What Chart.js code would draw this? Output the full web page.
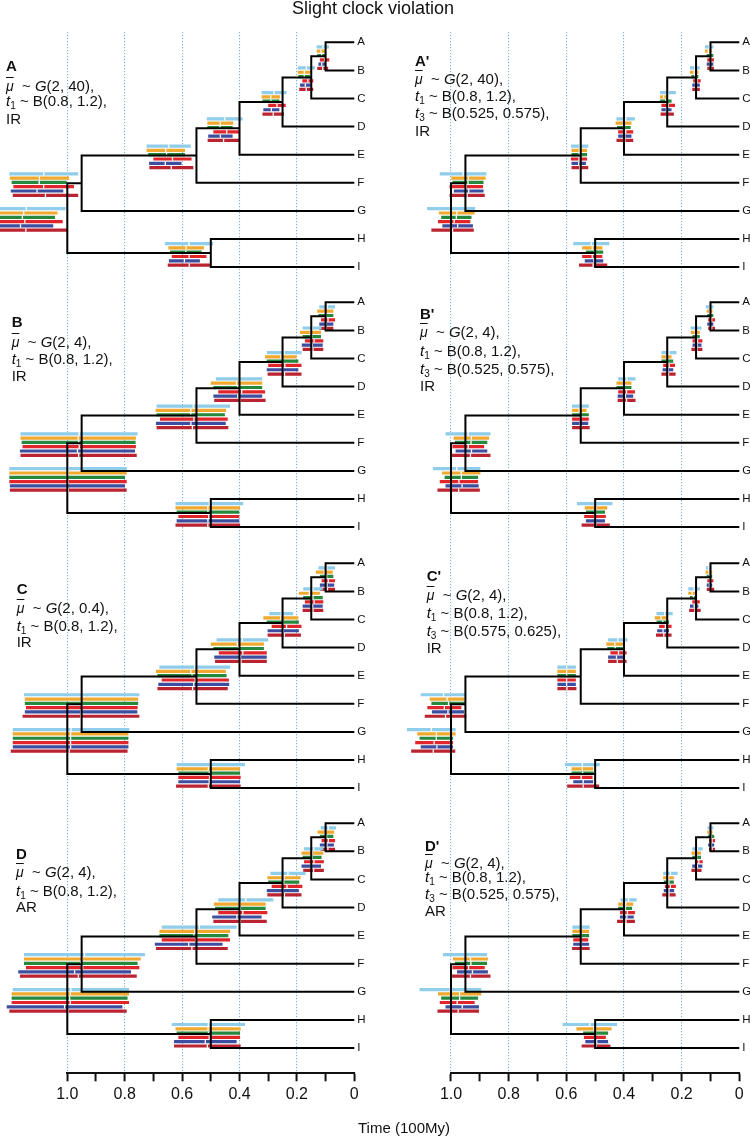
<!DOCTYPE html>
<html><head><meta charset="utf-8">
<script src="https://cdn.jsdelivr.net/npm/chart.js@4.4.1/dist/chart.umd.min.js"></script>
<style>
body{margin:0;background:#fff;width:750px;height:1136px;position:relative;overflow:hidden;font-family:"Liberation Sans",Arial,sans-serif;color:#111;}
canvas{position:absolute;top:0}
.t{position:absolute;white-space:nowrap;font-size:15px;line-height:15px;}
.t sub{font-size:10px;vertical-align:-3px;line-height:0}
.mu{text-decoration:overline;font-size:14px}
</style></head><body>
<canvas id="cl" width="375" height="1136" style="left:0"></canvas>
<canvas id="cr" width="375" height="1136" style="left:375px"></canvas>
<div id="txt"></div>
<script>
// ---------- data ----------
const leafNames = ['A','B','C','D','E','F','G','H','I'];
// internal nodes 9..16 : AB, ABC, ABCD, ABCDE, ABCDEF, ABCDEFG, HI, root
const nodeChildren = [[0,1],[9,2],[10,3],[11,4],[12,5],[13,6],[7,8],[14,15]];
const nodeAges = [0.1,0.15,0.25,0.4,0.55,0.95,0.5,1.0];
const xTickValues = [0,0.1,0.2,0.3,0.4,0.5,0.6,0.7,0.8,0.9,1.0];
const xTickLabels = ['0','','0.2','','0.4','','0.6','','0.8','','1.0'];
const seriesColors = ['#8fcdea','#f0a92e','#25883c','#e2242b','#3d4ea0','#bb2330'];

// 95% intervals [lo, hi] per node (order as nodeChildren), per series (order as seriesColors)
const hpdA = [
 [[0.088,0.131],[0.102,0.131],[0.099,0.129],[0.087,0.12],[0.102,0.125],[0.091,0.129]],
 [[0.137,0.197],[0.151,0.197],[0.154,0.195],[0.143,0.181],[0.152,0.189],[0.143,0.192]],
 [[0.236,0.323],[0.259,0.323],[0.261,0.32],[0.239,0.3],[0.261,0.317],[0.245,0.32]],
 [[0.389,0.514],[0.422,0.512],[0.424,0.512],[0.398,0.491],[0.424,0.509],[0.4,0.511]],
 [[0.57,0.724],[0.59,0.724],[0.59,0.718],[0.567,0.7],[0.602,0.715],[0.561,0.714]],
 [[0.962,1.202],[0.994,1.2],[1.002,1.194],[0.977,1.188],[1.014,1.197],[0.962,1.19]],
 [[0.492,0.66],[0.524,0.648],[0.532,0.642],[0.515,0.636],[0.538,0.646],[0.5,0.65]],
 [[1.006,1.28],[1.034,1.27],[1.043,1.27],[1.016,1.28],[1.049,1.277],[0.999,1.29]]
];
const hpdB = [
 [[0.067,0.122],[0.073,0.129],[0.073,0.125],[0.067,0.116],[0.073,0.122],[0.073,0.122]],
 [[0.114,0.18],[0.116,0.189],[0.116,0.18],[0.108,0.172],[0.11,0.183],[0.108,0.18]],
 [[0.184,0.305],[0.201,0.311],[0.195,0.305],[0.184,0.3],[0.195,0.305],[0.184,0.302]],
 [[0.321,0.482],[0.321,0.5],[0.321,0.491],[0.311,0.474],[0.321,0.491],[0.309,0.488]],
 [[0.433,0.689],[0.447,0.692],[0.451,0.689],[0.441,0.677],[0.448,0.691],[0.439,0.689]],
 [[0.755,1.163],[0.761,1.163],[0.762,1.159],[0.761,1.156],[0.764,1.165],[0.758,1.163]],
 [[0.387,0.623],[0.398,0.623],[0.401,0.619],[0.401,0.613],[0.401,0.619],[0.398,0.623]],
 [[0.793,1.202],[0.793,1.202],[0.799,1.202],[0.793,1.202],[0.799,1.2],[0.793,1.2]]
];
const hpdC = [
 [[0.067,0.125],[0.075,0.134],[0.073,0.12],[0.067,0.114],[0.07,0.12],[0.067,0.12]],
 [[0.11,0.178],[0.12,0.193],[0.11,0.178],[0.108,0.172],[0.11,0.18],[0.108,0.18]],
 [[0.213,0.296],[0.195,0.317],[0.193,0.305],[0.184,0.288],[0.193,0.302],[0.186,0.302]],
 [[0.3,0.48],[0.315,0.5],[0.315,0.491],[0.305,0.472],[0.305,0.488],[0.305,0.485]],
 [[0.433,0.679],[0.448,0.691],[0.445,0.686],[0.437,0.671],[0.436,0.683],[0.441,0.686]],
 [[0.749,1.151],[0.753,1.148],[0.753,1.148],[0.755,1.144],[0.756,1.148],[0.749,1.156]],
 [[0.381,0.619],[0.398,0.619],[0.398,0.613],[0.396,0.613],[0.398,0.613],[0.396,0.621]],
 [[0.784,1.19],[0.787,1.19],[0.787,1.19],[0.787,1.19],[0.787,1.19],[0.79,1.197]]
];
const hpdD = [
 [[0.064,0.117],[0.07,0.128],[0.073,0.12],[0.067,0.114],[0.071,0.12],[0.067,0.117]],
 [[0.108,0.175],[0.108,0.184],[0.114,0.18],[0.106,0.175],[0.116,0.184],[0.106,0.178]],
 [[0.17,0.292],[0.187,0.303],[0.192,0.3],[0.181,0.288],[0.193,0.305],[0.184,0.303]],
 [[0.282,0.474],[0.309,0.489],[0.309,0.485],[0.303,0.474],[0.323,0.495],[0.305,0.491]],
 [[0.41,0.671],[0.433,0.679],[0.439,0.679],[0.433,0.671],[0.459,0.695],[0.441,0.691]],
 [[0.729,1.151],[0.744,1.151],[0.755,1.151],[0.749,1.144],[0.778,1.171],[0.758,1.165]],
 [[0.381,0.636],[0.396,0.623],[0.398,0.619],[0.398,0.613],[0.41,0.628],[0.396,0.628]],
 [[0.785,1.19],[0.785,1.194],[0.79,1.194],[0.785,1.194],[0.808,1.211],[0.793,1.202]]
];
const hpdA2 = [
 [[0.09,0.119],[0.096,0.119],[0.09,0.113],[0.088,0.111],[0.09,0.113],[0.088,0.111]],
 [[0.137,0.171],[0.142,0.171],[0.142,0.166],[0.134,0.16],[0.137,0.163],[0.137,0.163]],
 [[0.22,0.275],[0.25,0.275],[0.235,0.275],[0.223,0.27],[0.235,0.27],[0.227,0.273]],
 [[0.362,0.426],[0.374,0.429],[0.377,0.424],[0.368,0.42],[0.374,0.42],[0.368,0.426]],
 [[0.524,0.584],[0.528,0.582],[0.528,0.582],[0.528,0.584],[0.532,0.582],[0.524,0.582]],
 [[0.877,1.039],[0.88,0.999],[0.887,0.995],[0.889,1.005],[0.887,0.99],[0.883,1.005]],
 [[0.451,0.576],[0.475,0.545],[0.472,0.532],[0.475,0.545],[0.472,0.536],[0.458,0.556]],
 [[0.916,1.083],[0.918,1.042],[0.929,1.034],[0.933,1.045],[0.924,1.03],[0.921,1.068]]
];
const hpdB2 = [
 [[0.09,0.116],[0.093,0.113],[0.09,0.111],[0.084,0.108],[0.09,0.111],[0.084,0.108]],
 [[0.131,0.169],[0.137,0.168],[0.137,0.162],[0.128,0.162],[0.131,0.162],[0.128,0.166]],
 [[0.218,0.27],[0.235,0.27],[0.229,0.27],[0.223,0.264],[0.229,0.266],[0.221,0.27]],
 [[0.36,0.42],[0.374,0.426],[0.374,0.426],[0.362,0.42],[0.368,0.422],[0.36,0.422]],
 [[0.522,0.58],[0.53,0.58],[0.522,0.58],[0.522,0.58],[0.524,0.58],[0.519,0.58]],
 [[0.863,1.019],[0.868,0.991],[0.874,0.987],[0.885,0.995],[0.874,0.984],[0.863,1.002]],
 [[0.44,0.563],[0.458,0.536],[0.466,0.532],[0.463,0.538],[0.466,0.532],[0.449,0.547]],
 [[0.898,1.063],[0.898,1.031],[0.906,1.022],[0.906,1.039],[0.904,1.019],[0.9,1.047]]
];
const hpdC2 = [
 [[0.096,0.116],[0.094,0.117],[0.094,0.113],[0.09,0.111],[0.094,0.113],[0.087,0.113]],
 [[0.137,0.177],[0.15,0.177],[0.148,0.171],[0.137,0.163],[0.142,0.171],[0.134,0.174]],
 [[0.231,0.287],[0.25,0.293],[0.244,0.287],[0.235,0.278],[0.244,0.285],[0.235,0.289]],
 [[0.388,0.455],[0.403,0.461],[0.403,0.458],[0.391,0.447],[0.397,0.455],[0.391,0.455]],
 [[0.567,0.631],[0.567,0.631],[0.567,0.631],[0.567,0.631],[0.567,0.631],[0.565,0.631]],
 [[0.947,1.105],[0.953,1.074],[0.949,1.068],[0.964,1.082],[0.955,1.066],[0.947,1.091]],
 [[0.484,0.605],[0.507,0.582],[0.505,0.582],[0.509,0.588],[0.507,0.576],[0.486,0.597]],
 [[0.984,1.153],[0.984,1.117],[0.993,1.109],[0.993,1.124],[0.993,1.105],[0.985,1.138]]
];
const hpdD2 = [
 [[0.09,0.11],[0.093,0.111],[0.087,0.108],[0.084,0.105],[0.087,0.108],[0.084,0.105]],
 [[0.127,0.163],[0.133,0.166],[0.133,0.163],[0.127,0.154],[0.128,0.163],[0.131,0.166]],
 [[0.214,0.264],[0.227,0.264],[0.227,0.262],[0.22,0.258],[0.226,0.262],[0.221,0.267]],
 [[0.356,0.412],[0.368,0.42],[0.372,0.42],[0.362,0.414],[0.366,0.414],[0.362,0.424]],
 [[0.519,0.579],[0.521,0.579],[0.521,0.579],[0.524,0.576],[0.521,0.576],[0.519,0.58]],
 [[0.875,1.028],[0.872,0.993],[0.875,0.987],[0.883,0.995],[0.872,0.979],[0.863,1.002]],
 [[0.424,0.613],[0.443,0.565],[0.455,0.542],[0.463,0.539],[0.455,0.534],[0.447,0.547]],
 [[0.895,1.109],[0.895,1.045],[0.906,1.034],[0.918,1.039],[0.903,1.019],[0.903,1.047]]
];

const panelNames = ['A','B','C','D',"A'","B'","C'","D'"];
const muParams = [['2','40'],['2','4'],['2','0.4'],['2','4'],['2','40'],['2','4'],['2','4'],['2','4']];
const t1Params = ['0.8','1.2'];
const t3Params = [null,null,null,null,['0.525','0.575'],['0.525','0.575'],['0.575','0.625'],['0.525','0.575']];
const rateModels = ['IR','IR','IR','AR','IR','IR','IR','AR'];

// ---------- layout constants ----------
const ROW_OFF = [0, 9.253, 18.54, 27.79];   // leaf units
const BAR_STEP = 0.153, BAR_SHIFT = 2.2, GAP_HALF = 0.06;
const Y_MIN = -0.3665, Y_MAX = 36.69;
const textX = [6, 11.7, 16.7, 16, 415, 420, 426.7, 425];
const textY = [
 [65, 85.3, 100, 118.3],
 [321.3, 341, 358.3, 375],
 [588.3, 607.2, 625, 641.7],
 [853.3, 871.3, 890, 906.7],
 [60.5, 78, 95.7, 112.3, 130],
 [313.3, 331.7, 350, 368.3, 385],
 [575, 593.8, 612, 630, 647.7],
 [845, 862, 876.7, 893.3, 910]
];

Chart.defaults.font.family = '"Liberation Sans", Arial, sans-serif';
Chart.defaults.color = '#111';

const Y = leafNames.map((_, i) => i);
nodeChildren.forEach((c, j) => { Y[9 + j] = (Y[c[0]] + Y[c[1]]) / 2; });
const ageOf = i => i < 9 ? 0 : nodeAges[i - 9];

function buildDatasets(panels) {
  const tree = [], gaps = [], bars = seriesColors.map(() => []);
  panels.forEach((hpd, r) => {
    const off = ROW_OFF[r];
    nodeChildren.forEach((c, j) => {
      const a = nodeAges[j];
      tree.push({x: ageOf(c[0]), y: off + Y[c[0]]}, {x: a, y: off + Y[c[0]]},
                {x: a, y: off + Y[c[1]]}, {x: ageOf(c[1]), y: off + Y[c[1]]}, {x: 0, y: null});
      hpd[j].forEach(([lo, hi], k) => {
        const yb = off + Y[9 + j] + (k - BAR_SHIFT) * BAR_STEP;
        bars[k].push({x: hi, y: yb}, {x: lo, y: yb}, {x: 0, y: null});
        const m = (lo + hi) / 2;
        gaps.push({x: m, y: yb - GAP_HALF}, {x: m, y: yb + GAP_HALF}, {x: 0, y: null});
      });
    });
  });
  const common = {pointRadius: 0, clip: false, spanGaps: false, tension: 0, borderCapStyle: 'butt'};
  const ds = [
    Object.assign({data: tree, borderColor: '#000', borderWidth: 2, order: 0, borderJoinStyle: 'miter'}, common),
    Object.assign({data: gaps, borderColor: '#fff', borderWidth: 1.3, order: 1}, common)
  ];
  bars.forEach((b, k) => ds.push(Object.assign({data: b, borderColor: seriesColors[k], borderWidth: 3.2, order: 2 + k}, common)));
  return ds;
}

function buildChart(id, panels, padLeft, yAxisWidth) {
  const leafTicks = [];
  ROW_OFF.forEach(off => leafNames.forEach((n, i) => leafTicks.push({value: off + i, label: n})));
  return new Chart(document.getElementById(id), {
    type: 'line',
    data: {datasets: buildDatasets(panels)},
    options: {
      responsive: false, maintainAspectRatio: false, animation: false, events: [],
      layout: {padding: {left: padLeft, top: 32, right: 0, bottom: 0}},
      plugins: {legend: {display: false}, tooltip: {enabled: false}, title: {display: false}},
      scales: {
        x: {
          type: 'linear', reverse: true, min: 0, max: 1,
          afterBuildTicks: s => { s.ticks = xTickValues.map(v => ({value: v})); },
          afterFit: s => { s.height = 62.7; },
          ticks: {autoSkip: false, maxRotation: 0, padding: 4, font: {size: 16}, color: '#111',
                  callback: (v, i) => xTickLabels[i]},
          grid: {
            drawOnChartArea: true, drawTicks: true, tickLength: 8, tickWidth: 2, tickColor: '#111',
            lineWidth: 1.1,
            color: ctx => { const v = Math.round((ctx.tick ? ctx.tick.value : 0) * 10); return (v > 0 && v % 2 === 0) ? '#7fb3dd' : 'rgba(0,0,0,0)'; }
          },
          border: {display: true, color: '#111', width: 2, dash: [1.2, 1.8]}
        },
        y: {
          type: 'linear', position: 'right', reverse: true, min: Y_MIN, max: Y_MAX,
          afterBuildTicks: s => { s.ticks = leafTicks.map(t => ({value: t.value})); },
          afterFit: s => { s.width = yAxisWidth; },
          ticks: {autoSkip: false, padding: 3, font: {size: 11.5}, color: '#111',
                  callback: (v, i) => leafTicks[i] ? leafTicks[i].label : ''},
          grid: {display: false, drawTicks: false},
          border: {display: false}
        }
      }
    }
  });
}

buildChart('cl', [hpdA, hpdB, hpdC, hpdD], 67.3, 20.7);
buildChart('cr', [hpdA2, hpdB2, hpdC2, hpdD2], 76, 10.7);

// ---------- text ----------
const txt = document.getElementById('txt');
function addText(html, left, yc, extra) {
  const d = document.createElement('div');
  d.className = 't';
  d.innerHTML = html;
  d.style.left = left + 'px';
  d.style.top = (yc - 7.3) + 'px';
  if (extra) Object.assign(d.style, extra);
  txt.appendChild(d);
}
panelNames.forEach((name, p) => {
  const lines = ['<b>' + name + '</b>',
    '<i class="mu">μ</i>&nbsp; ~ <i>G</i>(' + muParams[p][0] + ', ' + muParams[p][1] + '),',
    '<i>t</i><sub>1</sub> ~ B(' + t1Params[0] + ', ' + t1Params[1] + '),'];
  if (t3Params[p]) lines.push('<i>t</i><sub>3</sub> ~ B(' + t3Params[p][0] + ', ' + t3Params[p][1] + '),');
  lines.push(rateModels[p]);
  lines.forEach((h, i) => addText(h, textX[p], textY[p][i]));
});
const title = document.createElement('div');
title.className = 't';
title.textContent = 'Slight clock violation';
Object.assign(title.style, {left: '273px', width: '200px', textAlign: 'center', top: '-1px', fontSize: '18px', lineHeight: '18px'});
txt.appendChild(title);
const xl = document.createElement('div');
xl.className = 't';
xl.textContent = 'Time (100My)';
Object.assign(xl.style, {left: '304px', width: '200px', textAlign: 'center', top: '1120px'});
txt.appendChild(xl);
</script>
</body></html>
